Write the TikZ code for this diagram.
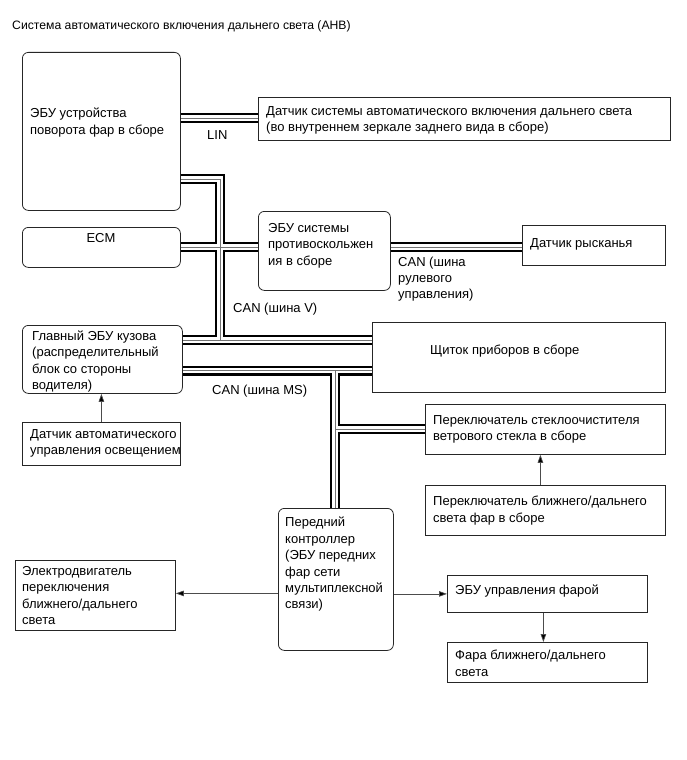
\documentclass[tikz,border=0pt]{standalone}
\usepackage{fontspec}
\setmainfont{Liberation Sans}
\usetikzlibrary{arrows.meta}
\pgfdeclarelayer{background}
\pgfsetlayers{background,main}
\begin{document}
\begin{tikzpicture}[x=1pt,y=-1pt,
  box/.style={draw=black!85, line width=0.8pt, inner sep=0pt, anchor=north west},
  rbox/.style={box, rounded corners=6pt},
  txt/.style={anchor=north west, inner sep=0pt, align=left, font=\fontsize{13}{16.4}\selectfont},
  cblack/.style={line width=10pt, black},
  cwhite/.style={line width=5.6pt, white},
  cgray/.style={line width=1pt, black!55},
  arr/.style={draw=black!70, line width=0.7pt, -{Triangle[length=8pt,width=5.5pt,fill=black]}}
]
\useasboundingbox (0,0) rectangle (686,760);

% title
\node[txt, font=\fontsize{12.2}{15}\selectfont] (title) at (12,20.5) {Система автоматического включения дальнего света (AHB)};

% boxes
\node[rbox, minimum width=158pt, minimum height=158pt] (hecu) at (22,52) {};
\node[txt] (hecut) at (30,108) {ЭБУ устройства\\поворота фар в сборе};

\node[box, minimum width=412pt, minimum height=43pt] (lins) at (258,97) {};
\node[txt] (linst) at (266,106) {Датчик системы автоматического включения дальнего света\\(во внутреннем зеркале заднего вида в сборе)};

\node[rbox, minimum width=158pt, minimum height=40pt] (ecm) at (22,227) {};
\node[txt, anchor=north] (ecmt) at (101,233) {ECM};

\node[rbox, minimum width=132pt, minimum height=79pt] (vsc) at (258,211) {};
\node[txt] (vsct) at (268,223) {ЭБУ системы\\противоскольжен\\ия в сборе};

\node[box, minimum width=143pt, minimum height=40pt] (yaw) at (522,225) {};
\node[txt] (yawt) at (530,238) {Датчик рысканья};

\node[rbox, minimum width=160pt, minimum height=68pt] (mbecu) at (22,325) {};
\node[txt] (mbecut) at (32,330.5) {Главный ЭБУ кузова\\(распределительный\\блок со стороны\\водителя)};

\node[box, minimum width=158pt, minimum height=43pt] (lsen) at (22,422) {};
\node[txt] (lsent) at (30,429) {Датчик автоматического\\управления освещением};

\node[box, minimum width=293pt, minimum height=70pt] (meter) at (372,322) {};
\node[txt] (metert) at (430,345) {Щиток приборов в сборе};

\node[box, minimum width=240pt, minimum height=50pt] (wiper) at (425,404) {};
\node[txt] (wipert) at (433,415) {Переключатель стеклоочистителя\\ветрового стекла в сборе};

\node[box, minimum width=240pt, minimum height=50pt] (dimmer) at (425,485) {};
\node[txt] (dimmert) at (433,496) {Переключатель ближнего/дальнего\\света фар в сборе};

\node[rbox, minimum width=115pt, minimum height=142pt] (front) at (278,508) {};
\node[txt] (frontt) at (285,517) {Передний\\контроллер\\(ЭБУ передних\\фар сети\\мультиплексной\\связи)};

\node[box, minimum width=160pt, minimum height=70pt] (motor) at (15,560) {};
\node[txt] (motort) at (22,566) {Электродвигатель\\переключения\\ближнего/дальнего\\света};

\node[box, minimum width=200pt, minimum height=37pt] (hlecu) at (447,575) {};
\node[txt] (hlecut) at (455,585) {ЭБУ управления фарой};

\node[box, minimum width=200pt, minimum height=40pt] (hl) at (447,642) {};
\node[txt] (hlt) at (455,650) {Фара ближнего/дальнего\\света};

% bus labels
\node[txt] (linl) at (207,130) {LIN};
\node[txt] (canv) at (233,303) {CAN (шина V)};
\node[txt] (canms) at (212,385) {CAN (шина MS)};
\node[txt] (cans) at (398,256.5) {CAN (шина\\рулевого\\управления)};

% junction coordinates
\coordinate (jtop) at (220,179);
\coordinate (jecm) at (220,247);
\coordinate (jv) at (220,340);
\coordinate (jms) at (335,370.5);
\coordinate (jwip) at (335,429);

% cables
\begin{pgfonlayer}{background}
\foreach \s in {cblack,cwhite,cgray}{
  \draw[\s] (hecu.east |- 0,118) -- (lins.west |- 0,118);
  \draw[\s, line join=miter] (hecu.east |- jtop) -- (jtop) -- (jv);
  \draw[\s] (ecm.east |- jecm) -- (vsc.west |- jecm);
  \draw[\s] (vsc.east |- jecm) -- (yaw.west |- jecm);
  \draw[\s] (mbecu.east |- jv) -- (meter.west |- jv);
  \draw[\s] (mbecu.east |- jms) -- (meter.west |- jms);
  \draw[\s] (jms) -- (jms |- front.north);
  \draw[\s] (jwip) -- (wiper.west |- jwip);
}
\end{pgfonlayer}

% arrows
\draw[arr] (lsen.north) -- (lsen.north |- mbecu.south);
\draw[arr] ([xshift=-5pt]dimmer.north) -- ([xshift=-5pt]dimmer.north |- wiper.south);
\draw[arr] ([yshift=-14pt]front.west) -- ([yshift=-14pt]front.west -| motor.east);
\draw[arr] (front.east |- hlecu.west) -- (hlecu.west);
\draw[arr] ([xshift=-4pt]hlecu.south) -- ([xshift=-4pt]hl.north);
\end{tikzpicture}
\end{document}
